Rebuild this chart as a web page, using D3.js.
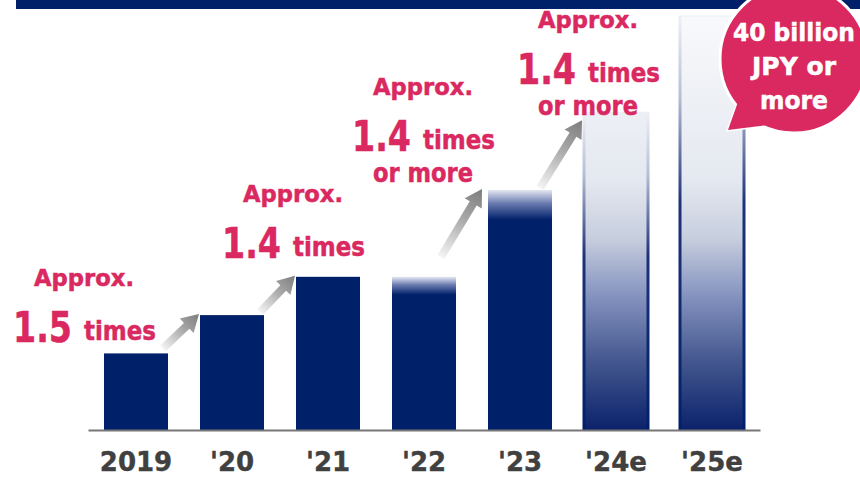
<!DOCTYPE html>
<html>
<head>
<meta charset="utf-8">
<script src="https://cdn.jsdelivr.net/npm/d3@7"></script>
<style>
  html, body { margin: 0; padding: 0; background: #fff; }
  svg { display: block; }
</style>
</head>
<body>
<svg id="chart" width="860" height="478"></svg>
<script>
// Sales by fiscal year, billion JPY ("e" = estimate)
const categories = ["2019", "'20", "'21", "'22", "'23", "'24e", "'25e"];
const sales = [7.4, 11.1, 14.8, 14.8, 23.2, 30.7, 40];

// Growth call-outs between years
const growthFrom = ["2019", "'20", "'22", "'23"];
const growthTo = ["'20", "'21", "'23", "'24e"];
const growthRatio = ["1.5", "1.4", "1.4", "1.4"];
const growthOrMore = [false, false, true, true];

// Speech bubble on the final estimate
const bubbleLines = ["40 billion", "JPY or", "more"];

const NAVY = "#002069";
const PINK = "#da2860";
const W = 860, H = 478;

const svg = d3.select("#chart");
const defs = svg.append("defs");

const x = d3.scaleBand().domain(categories).range([88, 760])
  .paddingInner(1 / 3).paddingOuter(1 / 6);
const y = d3.scaleLinear().domain([0, 40]).range([430, 16]);
const bw = x.bandwidth();
const val = c => sales[categories.indexOf(c)];

// header band
svg.append("rect").attr("x", 16).attr("y", 0).attr("width", W - 16).attr("height", 9).attr("fill", NAVY);

// gradient shared by estimate bars (white at top to navy at the base)
const est = defs.append("linearGradient").attr("id", "estGrad")
  .attr("gradientUnits", "userSpaceOnUse").attr("x1", 0).attr("x2", 0)
  .attr("y1", y(40)).attr("y2", y(0));
[[0, "#f8f9fb"], [0.4, "#e4e8f0"], [0.54, "#c6cddd"], [0.68, "#8391be"], [0.83, "#45588f"], [1, "#0b226c"]]
  .forEach(([o, c]) => est.append("stop").attr("offset", o).attr("stop-color", c));

// soft tops for '22 and '23
const fadeLen = { "'22": 18, "'23": 30 };

const isEstimate = c => /e$/.test(c);

categories.forEach((c, i) => {
  const top = y(sales[i]);
  let fill = NAVY;
  if (fadeLen[c]) {
    const id = "fade" + i;
    const g = defs.append("linearGradient").attr("id", id)
      .attr("gradientUnits", "userSpaceOnUse").attr("x1", 0).attr("x2", 0)
      .attr("y1", top).attr("y2", top + fadeLen[c]);
    g.append("stop").attr("offset", 0).attr("stop-color", "#e4e8f2");
    g.append("stop").attr("offset", 0.45).attr("stop-color", "#6b7bb0");
    g.append("stop").attr("offset", 1).attr("stop-color", NAVY);
    fill = `url(#${id})`;
  }
  if (isEstimate(c)) fill = "url(#estGrad)";
  svg.append("rect").attr("x", x(c)).attr("y", top)
    .attr("width", bw).attr("height", y(0) - top).attr("fill", fill);

  if (isEstimate(c)) {
    // navy side edges that fade in toward the top
    const id = "edge" + i;
    const g = defs.append("linearGradient").attr("id", id)
      .attr("gradientUnits", "userSpaceOnUse").attr("x1", 0).attr("x2", 0)
      .attr("y1", top).attr("y2", y(0));
    g.append("stop").attr("offset", 0).attr("stop-color", "#eef0f6");
    g.append("stop").attr("offset", 0.2).attr("stop-color", "#b4bdd4");
    g.append("stop").attr("offset", 0.45).attr("stop-color", "#1d3278");
    g.append("stop").attr("offset", 1).attr("stop-color", NAVY);
    [x(c) - 1.5, x(c) + bw - 1.5].forEach(ex => {
      svg.append("rect").attr("x", ex).attr("y", top).attr("width", 3)
        .attr("height", y(0) - top).attr("fill", `url(#${id})`);
    });
    svg.append("rect").attr("x", x(c) - 1.5).attr("y", top - 0.5).attr("width", bw + 3)
      .attr("height", 1).attr("fill", "#eceef4");
  }
});

// x axis
const axis = svg.append("g").attr("transform", `translate(0,${y(0)})`)
  .call(d3.axisBottom(x).tickSize(0).tickSizeOuter(0).tickPadding(0));
axis.select(".domain").attr("stroke", "#767676").attr("stroke-width", 2);
axis.selectAll(".tick text")
  .attr("y", 41).attr("dy", 0)
  .attr("fill", "#404040")
  .attr("stroke", "#404040").attr("stroke-width", 0.4)
  .style("font-family", "'DejaVu Sans', sans-serif")
  .style("font-weight", 700)
  .style("font-size", "26px");

// growth arrows
const arrowNudge = [[-5, -5, -1, -1], [-4, -3, -1, -1], [-15, -20, -6, -1], [-12, -2, -2, 8]];
growthFrom.forEach((f, i) => {
  const t = growthTo[i];
  const n = arrowNudge[i];
  const x0 = x(f) + bw + n[0], y0 = y(val(f)) + n[1];
  const x1 = x(t) + n[2], y1 = y(val(t)) + n[3];
  const dx = x1 - x0, dy = y1 - y0, L = Math.hypot(dx, dy);
  const ux = dx / L, uy = dy / L, px = -uy, py = ux;
  const sw = 4, hw = 10, hl = 17;
  const bx = x1 - ux * hl, by = y1 - uy * hl;
  const pts = [
    [x0 + px * sw, y0 + py * sw], [bx + px * sw, by + py * sw], [bx + px * hw, by + py * hw],
    [x1, y1], [bx - px * hw, by - py * hw], [bx - px * sw, by - py * sw], [x0 - px * sw, y0 - py * sw]
  ];
  const id = "arr" + i;
  const g = defs.append("linearGradient").attr("id", id).attr("gradientUnits", "userSpaceOnUse")
    .attr("x1", x0).attr("y1", y0).attr("x2", x1).attr("y2", y1);
  g.append("stop").attr("offset", 0).attr("stop-color", "#f4f4f4");
  g.append("stop").attr("offset", 0.55).attr("stop-color", "#a9a9a9");
  g.append("stop").attr("offset", 1).attr("stop-color", "#7c7c7c");
  svg.append("path").attr("d", "M" + pts.map(p => p.join(",")).join("L") + "Z")
    .attr("fill", `url(#${id})`);
});

// growth call-out text
const labelAnchor = [[84, 286], [293, 202], [423, 95], [588, 28]];
const FONT = "'DejaVu Sans', sans-serif";
function fitText(g, str, x0, yb, size, len, fill) {
  return g.append("text").attr("x", x0).attr("y", yb).text(str)
    .attr("fill", fill).attr("stroke", fill).attr("stroke-width", 0.5)
    .style("font-family", FONT).style("font-weight", 700)
    .style("font-size", size + "px")
    .attr("textLength", len).attr("lengthAdjust", "spacingAndGlyphs");
}
growthRatio.forEach((r, i) => {
  const [cx, by] = labelAnchor[i];
  const g = svg.append("g");
  fitText(g, "Approx.", cx - 50, by, 23, 100, PINK);
  fitText(g, r, cx - 71, by + 56, 42, 59, PINK);
  fitText(g, "times", cx + 0, by + 54, 27, 72, PINK);
  if (growthOrMore[i]) fitText(g, "or more", cx - 50, by + 87, 27, 100, PINK);
});

// speech bubble
const bcx = x("'25e") + bw + 50, bcy = 59, br = 74;
const tip = [bcx - 66, bcy + 71];
const tail = `M${bcx - 55},${bcy + 40}L${tip[0]},${tip[1]}L${bcx - 27},${bcy + 66}Z`;
const bub = svg.append("g");
bub.append("path").attr("d", tail).attr("fill", PINK).attr("stroke", "#fff").attr("stroke-width", 3).attr("stroke-linejoin", "round");
bub.append("circle").attr("cx", bcx).attr("cy", bcy).attr("r", br).attr("fill", PINK).attr("stroke", "#fff").attr("stroke-width", 3);
bub.append("path").attr("d", tail).attr("fill", PINK);
const bubW = [122, 84, 68];
bubbleLines.forEach((s, i) => {
  fitText(bub, s, bcx - bubW[i] / 2, 41 + i * 34, 24, bubW[i], "#fff");
});
</script>
</body>
</html>
